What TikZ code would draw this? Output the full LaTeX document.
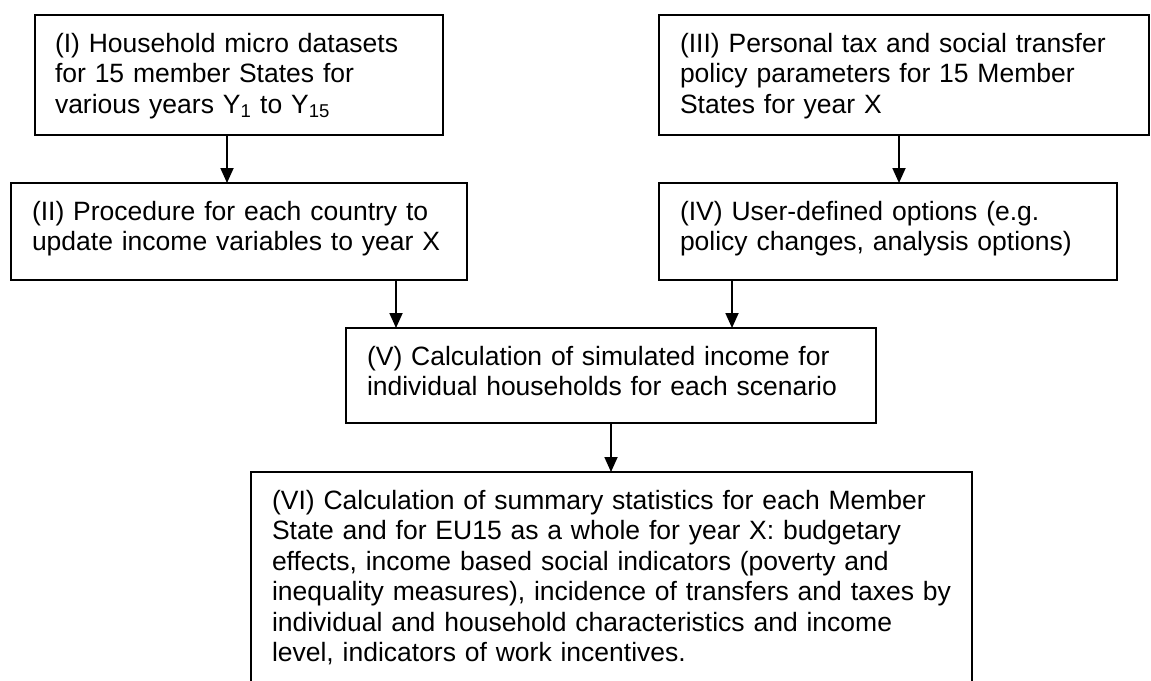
\documentclass[tikz,border=0pt]{standalone}
\usepackage{fontspec}
\setmainfont{Liberation Sans}
\usetikzlibrary{arrows.meta}
\begin{document}
\begin{tikzpicture}[x=1pt,y=-1pt,
  box/.style={draw=black, line width=1.8pt, inner sep=0pt, outer sep=0pt, anchor=north west},
  txt/.style={anchor=base west, inner sep=0pt, outer sep=0pt, align=left, text width=800pt,
    font=\fontsize{26.5}{30.5}\selectfont},
  arr/.style={line width=1.8pt, -{Triangle[width=13pt,length=15pt]}}]
\useasboundingbox (0,0) rectangle (1151,680);
\clip (0,0) rectangle (1151,680);
% boxes
\node[box, minimum width=408pt, minimum height=120pt] (b1) at (35,15) {};
\node[box, minimum width=490pt, minimum height=120pt] (b3) at (659,15) {};
\node[box, minimum width=456pt, minimum height=97pt] (b2) at (11,183) {};
\node[box, minimum width=458pt, minimum height=97pt] (b4) at (659,183) {};
\node[box, minimum width=530pt, minimum height=95pt] (b5) at (346,328) {};
\node[box, minimum width=721pt, minimum height=240pt] (b6) at (251,472) {};
% texts
\node[txt] (t1) at ([xshift=20pt,yshift=-37pt]b1.north west)
  {(I) Household micro datasets\\for 15 member States for\\various years Y\textsubscript{1} to Y\textsubscript{15}};
\node[txt] (t3) at ([xshift=21pt,yshift=-37pt]b3.north west)
  {(III) Personal tax and social transfer\\policy parameters for 15 Member\\States for year X};
\node[txt] (t2) at ([xshift=21pt,yshift=-37pt]b2.north west)
  {(II) Procedure for each country to\\update income variables to year X};
\node[txt] (t4) at ([xshift=21pt,yshift=-37pt]b4.north west)
  {(IV) User-defined options (e.g.\\policy changes, analysis options)};
\node[txt] (t5) at ([xshift=21pt,yshift=-37pt]b5.north west)
  {(V) Calculation of simulated income for\\individual households for each scenario};
\node[txt] (t6) at ([xshift=21pt,yshift=-37pt]b6.north west)
  {(VI) Calculation of summary statistics for each Member\\State and for EU15 as a whole for year X: budgetary\\effects, income based social indicators (poverty and\\inequality measures), incidence of transfers and taxes by\\individual and household characteristics and income\\level, indicators of work incentives.};
% arrow columns
\coordinate (c12) at (227,0);
\coordinate (c34) at (899,0);
\coordinate (c25) at (396,0);
\coordinate (c45) at (732,0);
\coordinate (c56) at (611,0);
\draw[arr] (b1.south -| c12) -- (b2.north -| c12);
\draw[arr] (b3.south -| c34) -- (b4.north -| c34);
\draw[arr] (b2.south -| c25) -- (b5.north -| c25);
\draw[arr] (b4.south -| c45) -- (b5.north -| c45);
\draw[arr] (b5.south -| c56) -- (b6.north -| c56);
\end{tikzpicture}
\end{document}
